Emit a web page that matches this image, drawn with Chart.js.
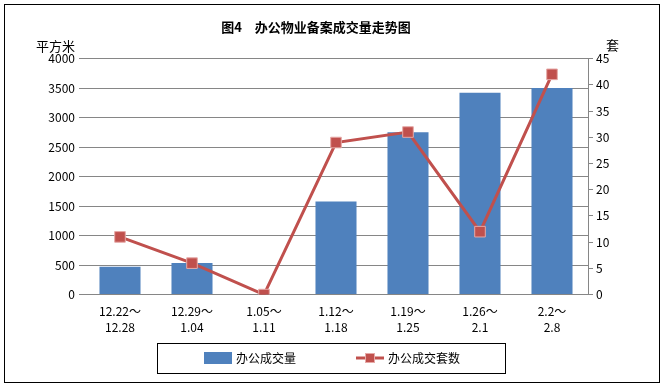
<!DOCTYPE html>
<html>
<head>
<meta charset="utf-8">
<script src="https://cdn.jsdelivr.net/npm/chart.js@4.4.0/dist/chart.umd.min.js"></script>
<style>
    html, body { margin: 0; padding: 0; background: #fff; }
    #wrap { position: relative; width: 664px; height: 388px; }
</style>
</head>
<body>
<div id="wrap"><canvas id="chart" width="664" height="388"></canvas></div>
<script>
// --- Data ---
const categories = [
    ['12.22～', '12.28'], ['12.29～', '1.04'], ['1.05～', '1.11'], ['1.12～', '1.18'],
    ['1.19～', '1.25'], ['1.26～', '2.1'], ['2.2～', '2.8']
];
const areaValues = [470, 535, 0, 1580, 2750, 3420, 3500];   // 办公成交量 (平方米)
const unitValues = [11, 6, 0, 29, 31, 12, 42];              // 办公成交套数 (套)
const leftTicks = [0, 500, 1000, 1500, 2000, 2500, 3000, 3500, 4000];
const rightTicks = [0, 5, 10, 15, 20, 25, 30, 35, 40, 45];

const FONT = '"Noto Sans CJK SC", "Liberation Sans", sans-serif';
const BAR_COLOR = '#4F81BD';
const LINE_COLOR = '#C0504D';
const GRID_COLOR = '#868686';

// --- Decorations: frame, unit labels, legend box ---
const decoPlugin = {
    id: 'deco',
    afterDraw(chart) {
        const ctx = chart.ctx;
        const area = chart.chartArea;
        ctx.save();
        // outer frame
        ctx.strokeStyle = '#000';
        ctx.lineWidth = 1;
        ctx.strokeRect(4.5, 4.5, chart.width - 9, chart.height - 10);

        // unit labels
        ctx.fillStyle = '#000';
        ctx.font = '13px ' + FONT;
        ctx.textBaseline = 'middle';
        ctx.textAlign = 'right';
        ctx.fillText('平方米', area.left - 9, area.top - 13);
        ctx.textAlign = 'left';
        ctx.fillText('套', area.right + 18, area.top - 14);

        // legend
        const ds = chart.data.datasets;
        ctx.font = '12px ' + FONT;
        const sw = 28, gapText = 4, gapItem = 60;
        const w0 = ctx.measureText(ds[0].label).width;
        const w1 = ctx.measureText(ds[1].label).width;
        const total = sw + gapText + w0 + gapItem + sw + gapText + w1;
        let x = (chart.width - total) / 2;
        const cy = 358;

        ctx.strokeStyle = '#000';
        ctx.strokeRect(Math.round(x - 47) + 0.5, cy - 15 + 0.5, Math.round(total + 92), 30);

        ctx.fillStyle = ds[0].backgroundColor;
        ctx.fillRect(x, cy - 6, sw, 12);
        x += sw + gapText;
        ctx.fillStyle = '#000';
        ctx.textAlign = 'left';
        ctx.fillText(ds[0].label, x, cy);
        x += w0 + gapItem;

        ctx.strokeStyle = ds[1].borderColor;
        ctx.lineWidth = 3;
        ctx.beginPath();
        ctx.moveTo(x, cy);
        ctx.lineTo(x + sw, cy);
        ctx.stroke();
        ctx.fillStyle = ds[1].pointBackgroundColor;
        ctx.fillRect(x + sw / 2 - 5, cy - 5, 10, 10);
        ctx.strokeStyle = ds[1].pointBorderColor;
        ctx.lineWidth = 1;
        ctx.strokeRect(x + sw / 2 - 5 + 0.5, cy - 5 + 0.5, 9, 9);
        x += sw + gapText;
        ctx.fillStyle = '#000';
        ctx.fillText(ds[1].label, x, cy);
        ctx.restore();
    }
};

const ctx = document.getElementById('chart').getContext('2d');
new Chart(ctx, {
    data: {
        labels: categories,
        datasets: [
            {
                type: 'bar',
                label: '办公成交量',
                data: areaValues,
                backgroundColor: BAR_COLOR,
                yAxisID: 'y',
                barPercentage: 0.57,
                categoryPercentage: 1,
                order: 2
            },
            {
                type: 'line',
                label: '办公成交套数',
                data: unitValues,
                borderColor: LINE_COLOR,
                borderWidth: 3,
                pointStyle: 'rect',
                pointRadius: 7.5,
                pointBackgroundColor: LINE_COLOR,
                pointBorderColor: '#E6A9A7',
                pointBorderWidth: 1,
                tension: 0,
                yAxisID: 'y1',
                order: 1
            }
        ]
    },
    options: {
        responsive: false,
        animation: false,
        layout: { padding: { left: 4, right: 36, top: 0, bottom: 51 } },
        plugins: {
            legend: { display: false },
            tooltip: { enabled: false },
            title: {
                display: true,
                text: '图4　办公物业备案成交量走势图',
                color: '#000',
                font: { family: FONT, size: 13, weight: 'bold', lineHeight: 1.2 },
                padding: { top: 19, bottom: 24 }
            }
        },
        scales: {
            x: {
                offset: true,
                grid: { display: false },
                border: { display: true, color: GRID_COLOR },
                ticks: {
                    color: '#000',
                    padding: 1,
                    maxRotation: 0,
                    autoSkip: false,
                    font: { family: FONT, size: 12, lineHeight: 1.35 }
                }
            },
            y: {
                position: 'left',
                min: 0,
                max: 4000,
                afterBuildTicks: s => { s.ticks = leftTicks.map(v => ({ value: v })); },
                afterFit: s => { s.width = 80; },
                grid: { color: GRID_COLOR, tickLength: 5, drawTicks: true },
                border: { display: false },
                ticks: { color: '#000', padding: 4, font: { family: FONT, size: 12 }, callback: v => String(v) }
            },
            y1: {
                position: 'right',
                min: 0,
                max: 45,
                afterBuildTicks: s => { s.ticks = rightTicks.map(v => ({ value: v })); },
                afterFit: s => { s.width = 40; },
                grid: { drawOnChartArea: false, color: GRID_COLOR, tickLength: 5 },
                border: { display: true, color: GRID_COLOR },
                ticks: { color: '#000', padding: 3, font: { family: FONT, size: 12 }, callback: v => String(v) }
            }
        }
    },
    plugins: [decoPlugin]
});
</script>
</body>
</html>
